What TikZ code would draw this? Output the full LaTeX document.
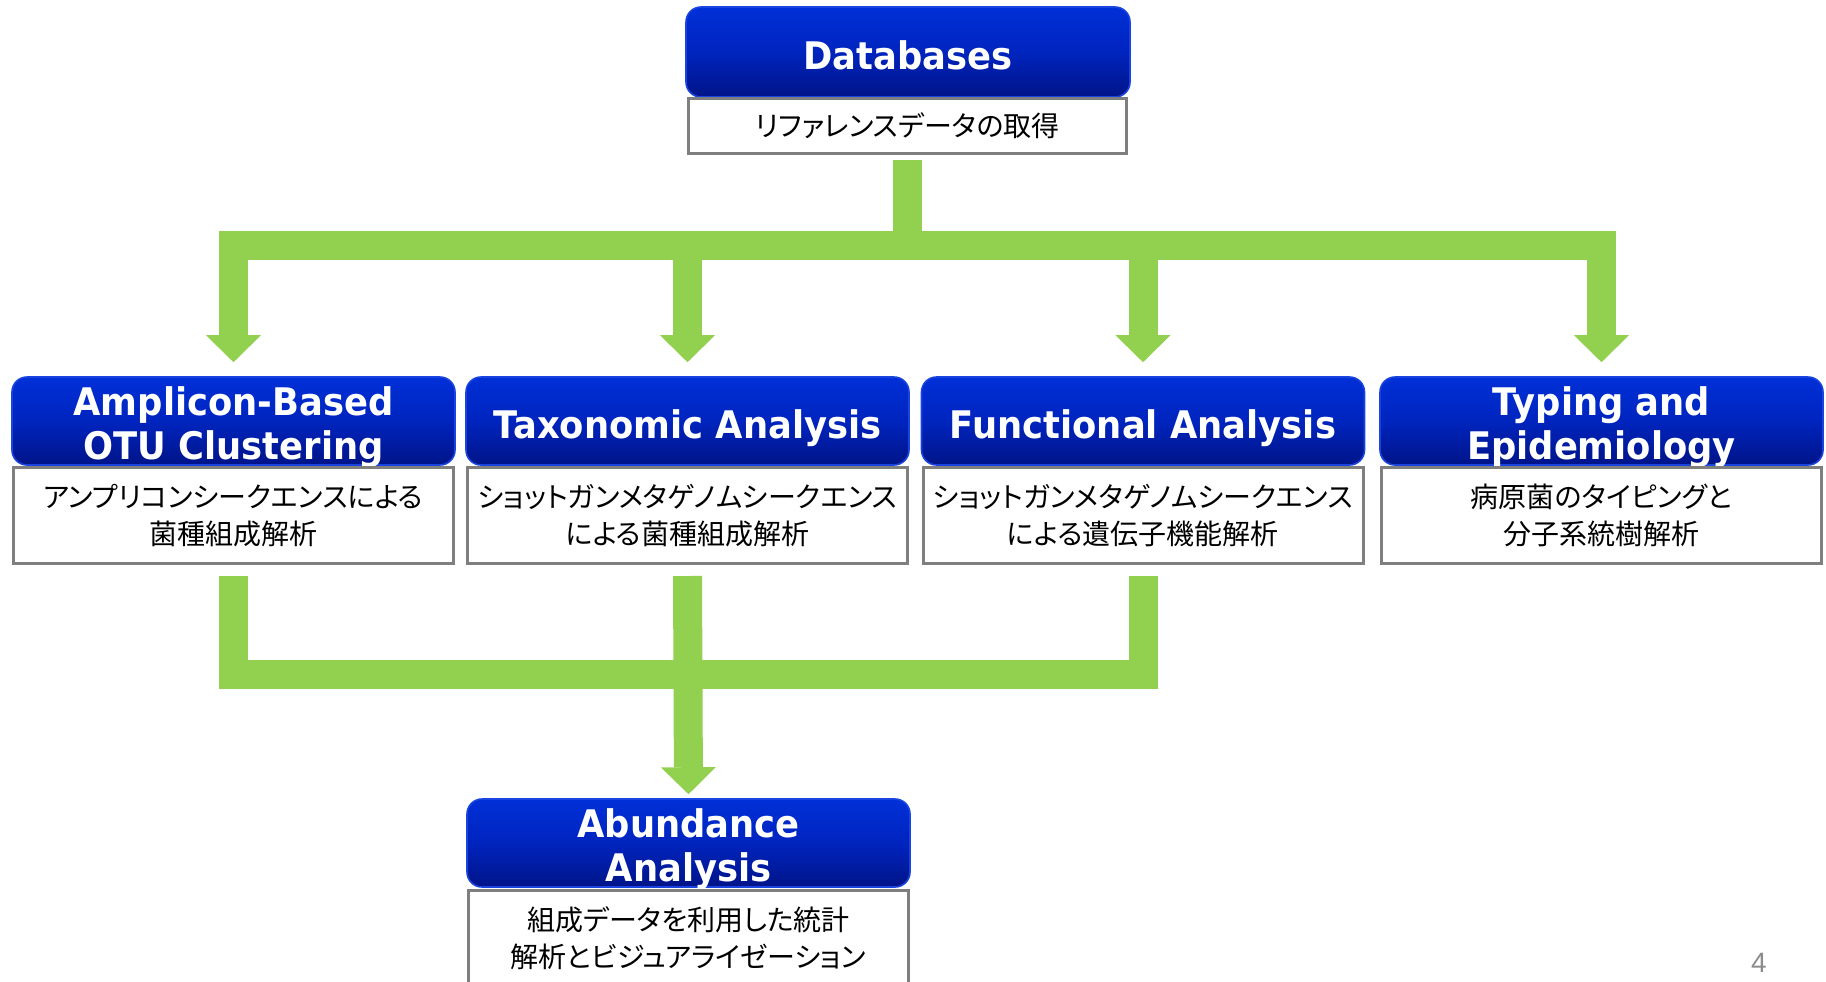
\documentclass[tikz,border=0pt]{standalone}
\usepackage{fontspec}
\setmainfont{DejaVu Sans}
\newfontfamily\titlefont{DejaVu Sans}[FakeStretch=0.93]
\newfontfamily\jpfont{Noto Sans CJK JP}[RawFeature=+palt]
\newfontfamily\pnfont{Liberation Sans}
\usetikzlibrary{arrows.meta}
\definecolor{gArrow}{HTML}{92D050}
\definecolor{bTop}{HTML}{0030D8}
\definecolor{bMid}{HTML}{0024BE}
\definecolor{bBot}{HTML}{001488}
\definecolor{bEdge}{HTML}{1A44E0}
\definecolor{wEdge}{HTML}{7F7F7F}
\definecolor{pnGray}{HTML}{8C8C8C}
\begin{document}
\begin{tikzpicture}[x=0.5pt,y=-0.5pt,
 bluebox/.style={rounded corners=7.5pt, draw=bEdge, line width=0.8pt, top color=bTop, bottom color=bBot, middle color=bMid, minimum width=221.5pt, minimum height=44pt, inner sep=0pt},
 titletext/.style={text=white, font=\titlefont\bfseries\fontsize{19}{22}\selectfont, align=center, inner sep=0pt},
 whitebox/.style={draw=wEdge, line width=1.5pt, fill=white, minimum width=220pt, minimum height=48pt, inner sep=0pt, font=\jpfont\fontsize{14}{18.5}\selectfont, align=center},
 gbar/.style={draw=gArrow, line width=14.5pt},
 gtip/.style={-{Triangle[width=27.5pt,length=13.5pt,line width=0pt]}},
 gtips/.style={{Triangle[width=27.5pt,length=13.5pt,line width=0pt]}-{Triangle[width=27.5pt,length=13.5pt,line width=0pt]}},
]
\fill[white] (0,0) rectangle (1826,981);
\useasboundingbox (0,0) rectangle (1826,981);

% Databases
\node[bluebox, minimum width=222pt, minimum height=45pt] (dbB) at (908,52) {};
\node[titletext] (dbT) at (908,55.5) {Databases};
\node[whitebox, minimum width=219pt, minimum height=27.5pt] (dbW) at (907.5,126) {リファレンスデータの取得};

% second row
\node[bluebox] (ampB) at (233.5,421) {};
\node[bluebox] (taxB) at (687.5,421) {};
\node[bluebox] (funB) at (1143,421) {};
\node[bluebox] (typB) at (1601.5,421) {};
\node[titletext] (ampT) at (233.5,427) {Amplicon-Based\\OTU Clustering};
\node[titletext] (taxT) at (687.5,428) {Taxonomic Analysis};
\node[titletext] (funT) at (1143,428) {Functional Analysis};
\node[titletext] (typT) at (1601.5,427) {Typing and\\Epidemiology};
\node[whitebox] (ampW) at (233.5,515.5) {アンプリコンシークエンスによる\\菌種組成解析};
\node[whitebox] (taxW) at (687.5,515.5) {ショットガンメタゲノムシークエンス\\による菌種組成解析};
\node[whitebox] (funW) at (1143,515.5) {ショットガンメタゲノムシークエンス\\による遺伝子機能解析};
\node[whitebox] (typW) at (1601.5,515.5) {病原菌のタイピングと\\分子系統樹解析};

% Abundance
\node[bluebox] (abB) at (688.5,843) {};
\node[titletext] (abT) at (688.5,849.5) {Abundance\\Analysis};
\node[whitebox] (abW) at (688.5,938.5) {組成データを利用した統計\\解析とビジュアライゼーション};

% page number
\node[font=\pnfont\fontsize{14}{14}\selectfont, text=pnGray, anchor=base, inner sep=0pt] (pg) at (1759,972) {4};

% connectors
\coordinate (barA) at (908,245);
\coordinate (barB) at (688,674.5);
\draw[gbar] ([yshift=-2.5pt]dbW.south) -- (dbW.south |- barA);
\draw[gbar, gtips] ([yshift=7pt]ampB.north) -- (ampB.north |- barA) -- (typB.north |- barA) -- ([yshift=7pt]typB.north);
\draw[gbar, gtip] (taxB.north |- barA) -- ([yshift=7pt]taxB.north);
\draw[gbar, gtip] (funB.north |- barA) -- ([yshift=7pt]funB.north);
\draw[gbar] ([yshift=-5.5pt]ampW.south) -- (ampW.south |- barB) -- (funW.south |- barB) -- ([yshift=-5.5pt]funW.south);
\draw[gbar, gtip] ([yshift=-5.5pt]taxW.south) -- ([yshift=2pt]abB.north);
\end{tikzpicture}
\end{document}
